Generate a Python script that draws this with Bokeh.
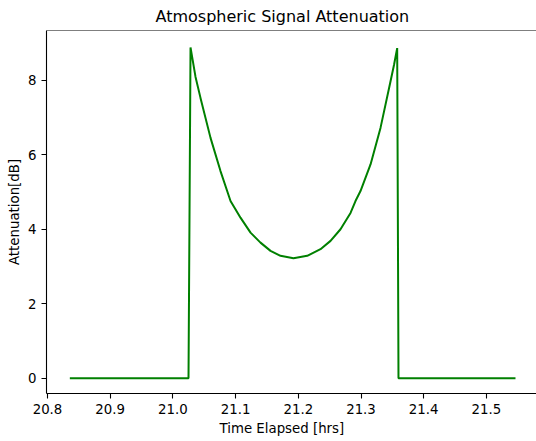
from bokeh.plotting import figure
from bokeh.models import Range1d, FixedTicker, Title, Span
from bokeh.embed import file_html
from bokeh.resources import INLINE

# Data
time_hrs = [20.8356, 21.0249, 21.0281, 21.0360, 21.0440, 21.0600, 21.0759, 21.0919,
            21.1078, 21.1238, 21.1397, 21.1557, 21.1716, 21.1923, 21.2142, 21.2354,
            21.2514, 21.2673, 21.2833, 21.2912, 21.2992, 21.3152, 21.3311, 21.3471,
            21.3527, 21.3577, 21.3598, 21.5464]
atten_db = [0.0, 0.0, 8.886, 8.10, 7.53, 6.456, 5.564, 4.760,
            4.313, 3.911, 3.643, 3.421, 3.287, 3.225, 3.287, 3.466,
            3.689, 4.002, 4.439, 4.760, 5.028, 5.743, 6.724, 7.975,
            8.42, 8.867, 0.0, 0.0]

x_ticks = [20.8, 20.9, 21.0, 21.1, 21.2, 21.3, 21.4, 21.5]
x_tick_labels = ["20.8", "20.9", "21.0", "21.1", "21.2", "21.3", "21.4", "21.5"]
y_ticks = [0, 2, 4, 6, 8]

FONT = "DejaVu Sans"
Y_TOP = 9.34

p = figure(width=536, height=441, output_backend="svg", toolbar_location=None,
           x_range=Range1d(20.7984, 21.5799), y_range=Range1d(-0.41, Y_TOP),
           min_border_left=46, min_border_right=0, min_border_top=29, min_border_bottom=48)

p.title = Title(text="Atmospheric Signal Attenuation", align="left", offset=109,
                text_font=FONT, text_font_size="16px", text_font_style="normal",
                text_color="#000000", standoff=9)

p.line(time_hrs, atten_db, line_color="#008000", line_width=2)

p.xgrid.visible = False
p.ygrid.visible = False
p.outline_line_color = None
p.add_layout(Span(location=Y_TOP, dimension="width", line_color="#000000", line_width=1.1))
p.background_fill_color = "white"
p.border_fill_color = "white"

for ax in (p.xaxis[0], p.yaxis[0]):
    ax.axis_line_color = "#000000"
    ax.axis_line_width = 1.1
    ax.major_tick_line_color = "#000000"
    ax.major_tick_line_width = 1.1
    ax.minor_tick_line_color = None
    ax.major_tick_in = 0
    ax.major_tick_out = 5
    ax.major_label_text_font = FONT
    ax.major_label_text_font_size = "13.33px"
    ax.major_label_text_color = "#000000"
    ax.major_label_standoff = 5
    ax.axis_label_text_font = FONT
    ax.axis_label_text_font_size = "13.33px"
    ax.axis_label_text_font_style = "normal"
    ax.axis_label_text_color = "#000000"

p.xaxis[0].ticker = FixedTicker(ticks=x_ticks)
p.xaxis[0].major_label_overrides = {t: l for t, l in zip(x_ticks, x_tick_labels)}
p.yaxis[0].ticker = FixedTicker(ticks=y_ticks)
p.yaxis[0].axis_label = "Attenuation[dB]"
p.yaxis[0].axis_label_standoff = 3

p.add_layout(Title(text="Time Elapsed [hrs]", align="left", offset=173,
                   text_font=FONT, text_font_size="13.33px", text_font_style="normal",
                   text_color="#000000", standoff=4), "below")

open("out.html", "w").write(file_html(p, INLINE))
